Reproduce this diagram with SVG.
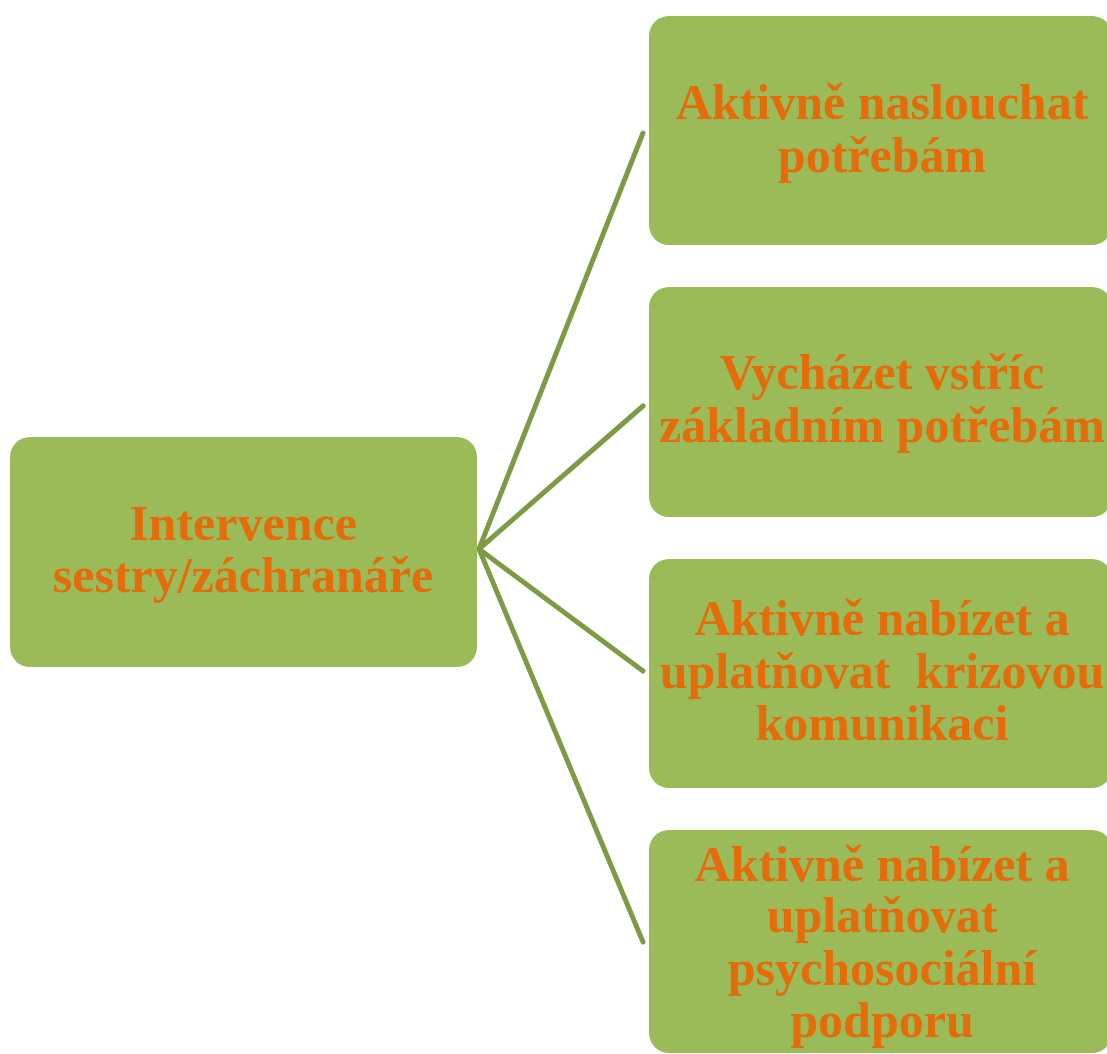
<svg xmlns="http://www.w3.org/2000/svg" width="1107" height="1054" viewBox="0 0 1107 1054">
<style>
.box{fill:#9BBB59;}
.t{font-family:"Liberation Serif","Times New Roman",serif;font-weight:bold;font-size:50px;fill:#E46C0A;text-anchor:middle;}
.c{stroke:#7E9A45;stroke-width:5;fill:none;stroke-linecap:round;}
</style>
<rect width="1107" height="1054" fill="#FFFFFF"/>
<g id="connectors">
<line class="c" x1="479" y1="549" x2="643" y2="133"/>
<line class="c" x1="479" y1="549" x2="643" y2="406"/>
<line class="c" x1="479" y1="549" x2="643" y2="671"/>
<line class="c" x1="479" y1="549" x2="643" y2="942"/>
</g>
<g id="root">
<rect class="box" x="10" y="437" width="467" height="230" rx="20"/>
<text class="t" x="243" y="540">Intervence</text>
<text class="t" x="243" y="592">sestry/záchranáře</text>
</g>
<g id="n1">
<rect class="box" x="649" y="16" width="463" height="229" rx="20"/>
<text class="t" x="882" y="119">Aktivně naslouchat</text>
<text class="t" x="882" y="172">potřebám</text>
</g>
<g id="n2">
<rect class="box" x="649" y="287" width="463" height="230" rx="20"/>
<text class="t" x="882" y="389">Vycházet vstříc</text>
<text class="t" x="882" y="442">základním potřebám</text>
</g>
<g id="n3">
<rect class="box" x="649" y="559" width="463" height="229" rx="20"/>
<text class="t" x="882" y="635">Aktivně nabízet a</text>
<text class="t" x="882" y="688">uplatňovat&#160; krizovou</text>
<text class="t" x="882" y="740">komunikaci</text>
</g>
<g id="n4">
<rect class="box" x="649" y="830" width="463" height="223" rx="20"/>
<text class="t" x="882" y="881">Aktivně nabízet a</text>
<text class="t" x="882" y="932">uplatňovat</text>
<text class="t" x="882" y="985">psychosociální</text>
<text class="t" x="882" y="1037">podporu</text>
</g>
</svg>
